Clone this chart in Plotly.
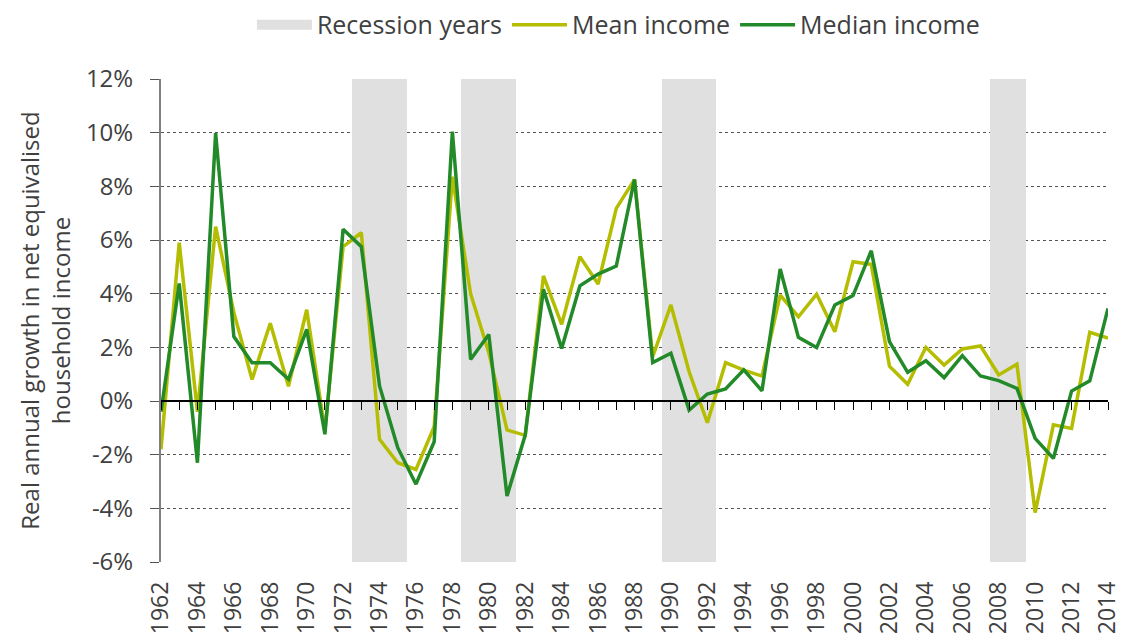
import plotly.graph_objects as go

years = list(range(1962, 2015))

mean_income = [
    -1.8, 5.9, -0.4, 6.5, 3.3, 0.8, 2.9, 0.55, 3.4, -1.1,
    5.75, 6.27, -1.43, -2.3, -2.55, -0.96, 8.36, 4.0, 1.8, -1.08,
    -1.28, 4.66, 2.86, 5.38, 4.36, 7.18, 8.25, 1.65, 3.58, 1.09,
    -0.81, 1.43, 1.15, 0.93, 3.95, 3.14, 3.98, 2.58, 5.19, 5.09,
    1.30, 0.62, 2.0, 1.34, 1.94, 2.05, 0.97, 1.37, -4.16, -0.89,
    -1.02, 2.56, 2.34,
]

median_income = [
    -0.4, 4.38, -2.3, 9.98, 2.4, 1.43, 1.43, 0.81, 2.67, -1.24,
    6.4, 5.75, 0.56, -1.74, -3.1, -1.52, 10.04, 1.55, 2.48, -3.54,
    -1.27, 4.16, 1.96, 4.29, 4.73, 5.03, 8.26, 1.43, 1.78, -0.34,
    0.26, 0.45, 1.16, 0.38, 4.92, 2.37, 1.99, 3.58, 3.93, 5.6,
    2.21, 1.07, 1.5, 0.87, 1.69, 0.93, 0.76, 0.47, -1.39, -2.14,
    0.37, 0.75, 3.45,
]

recession_years = [1973, 1974, 1975, 1979, 1980, 1981, 1990, 1991, 1992, 2008, 2009]

y_ticks = [-6, -4, -2, 0, 2, 4, 6, 8, 10, 12]
y_tick_labels = ["-6%", "-4%", "-2%", "0%", "2%", "4%", "6%", "8%", "10%", "12%"]
x_ticks = list(range(1962, 2015, 2))

Y_MIN, Y_MAX = -6, 12
FONT = "Open Sans"
TEXT = "#404040"
BAND = "#e0e0e0"
MEAN_C = "#b5bd00"
MEDIAN_C = "#238a2a"

fig = go.Figure()

# recession bands (full-height bars)
fig.add_trace(go.Bar(
    x=recession_years,
    y=[Y_MAX - Y_MIN] * len(recession_years),
    base=Y_MIN,
    width=1,
    marker=dict(color=BAND, line=dict(width=0)),
    name="Recession years",
    legendgroup="rec",
    showlegend=False,
    hoverinfo="skip",
))
# legend swatch for the bands
fig.add_trace(go.Scatter(
    x=[None], y=[None], mode="lines",
    line=dict(color=BAND, width=16),
    name="Recession years", legendgroup="rec",
))
fig.add_trace(go.Scatter(
    x=years, y=mean_income, mode="lines",
    line=dict(color=MEAN_C, width=3.5),
    name="Mean income",
))
fig.add_trace(go.Scatter(
    x=years, y=median_income, mode="lines",
    line=dict(color=MEDIAN_C, width=3.5),
    name="Median income",
))

fig.update_layout(
    width=1121, height=637,
    margin=dict(l=161, r=13, t=79, b=75, autoexpand=False),
    paper_bgcolor="white", plot_bgcolor="white",
    font=dict(family=FONT, size=23, color=TEXT),
    bargap=0,
    showlegend=True,
    legend=dict(
        orientation="h", x=0.483, xanchor="center", y=1.112, yanchor="middle",
        font=dict(size=25, color=TEXT), itemwidth=55, traceorder="normal",
        bgcolor="rgba(0,0,0,0)",
    ),
    xaxis=dict(
        range=[1962, 2014], automargin=False,
        tickmode="array", tickvals=x_ticks, ticktext=[str(v) for v in x_ticks],
        tickangle=-90, showgrid=False, zeroline=False, showline=False,
        ticks="", ticklabelstandoff=14, ticklabeloverflow="allow",
        tickfont=dict(size=23, color=TEXT),
    ),
    xaxis2=dict(
        range=[1962, 2014], overlaying="x", anchor="free", automargin=False,
        position=(0 - Y_MIN) / (Y_MAX - Y_MIN), side="bottom",
        showgrid=False, zeroline=False, showticklabels=False,
        showline=True, linecolor="black", linewidth=1.5,
        ticks="outside", tickmode="linear", tick0=1962, dtick=1,
        ticklen=8, tickcolor="black", tickwidth=1.2,
    ),
    yaxis=dict(
        range=[Y_MIN, Y_MAX], automargin=False,
        tickmode="array", tickvals=y_ticks, ticktext=y_tick_labels,
        showgrid=True, gridcolor="#555555", griddash="dot", gridwidth=1,
        zeroline=False,
        showline=True, linecolor="#808080", linewidth=2,
        ticks="outside", ticklen=9, tickcolor="#555555", tickwidth=1.2,
        ticklabelstandoff=12,
        tickfont=dict(size=24, color=TEXT),
        title=dict(
            text="Real annual growth in net equivalised<br>household income",
            font=dict(size=24, color=TEXT), standoff=8,
        ),
    ),
)

# invisible trace to bind the zero-line axis
fig.add_trace(go.Scatter(x=[1962, 2014], y=[None, None], xaxis="x2",
                         showlegend=False, hoverinfo="skip", mode="lines"))

fig.write_html(
    "out.html",
    config={"displayModeBar": False},
    post_script="document.body.style.margin='0';document.body.style.padding='0';",
)
